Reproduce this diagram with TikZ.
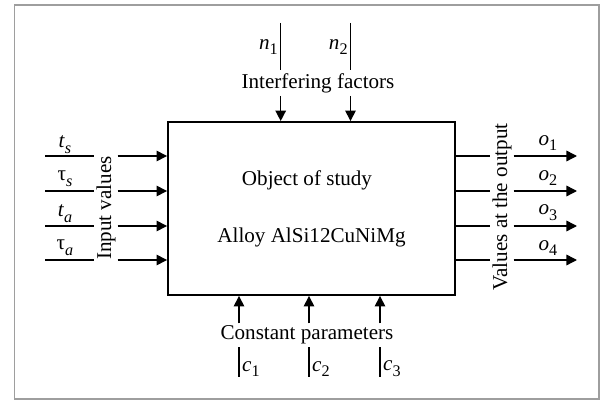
\documentclass[tikz,border=0pt]{standalone}
\usepackage{fontspec}
\setmainfont{Liberation Serif}
\usepackage{tikz}
\usetikzlibrary{calc,arrows.meta,positioning}
\usepackage{xcolor}
\newcommand{\subl}[1]{\raisebox{-0.28em}{\fontsize{11.5}{12}\selectfont #1}}
\newcommand{\ilab}[2]{\textit{#1}\subl{#2}}

\tikzset{
  ln/.style={line width=1pt},
  arr/.style={line width=1pt,-{Triangle[length=7.5pt,width=7.5pt]}},
  lbl/.style={inner sep=1pt},
  side/.style={inner sep=1.2pt,rotate=90},
}

\begin{document}
\begin{tikzpicture}[x=0.025cm,y=-0.025cm,font=\fontsize{15}{17}\selectfont]
\useasboundingbox (0,0) rectangle (600,400);
\draw[line width=1.4pt,color=black!38] (14.5,5) rectangle (599,399);
% object of study
\node[draw,line width=1.3pt,minimum width=7.175cm,minimum height=4.325cm] (obj) at (311.5,208.5) {};
\node (objt) at (307,180) {Object of study};
\node (alloy) at (311.5,237) {Alloy AlSi12CuNiMg};
% interfering factors
\node[lbl,inner sep=2pt] (interf) at (318,83) {Interfering factors};
\coordinate (nt1) at (280.7,23);
\coordinate (nt2) at (350.5,23);
\draw[ln] (nt1) -- (nt1 |- interf.north);
\draw[ln] (nt2) -- (nt2 |- interf.north);
\draw[arr] (nt1 |- interf.south) -- (nt1 |- obj.north);
\draw[arr] (nt2 |- interf.south) -- (nt2 |- obj.north);
\node[lbl,anchor=east] (n1) at (279.5,47) {\ilab{n}{1}};
\node[lbl,anchor=east] (n2) at (349.3,47) {\ilab{n}{2}};
% input values
\node[side] (inval) at (106,208) {Input values};
\coordinate (i1) at (45,156);
\coordinate (i2) at (45,191);
\coordinate (i3) at (45,226);
\coordinate (i4) at (45,260);
\draw[ln] (i1) -- (i1 -| inval.north);
\draw[ln] (i2) -- (i2 -| inval.north);
\draw[ln] (i3) -- (i3 -| inval.north);
\draw[ln] (i4) -- (i4 -| inval.north);
\draw[arr] (i1 -| inval.south) -- (i1 -| obj.west);
\draw[arr] (i2 -| inval.south) -- (i2 -| obj.west);
\draw[arr] (i3 -| inval.south) -- (i3 -| obj.west);
\draw[arr] (i4 -| inval.south) -- (i4 -| obj.west);
\node[lbl] (ts) at (65,145) {\ilab{t}{\textit{s}}};
\node[lbl] (taus) at (65,179) {τ\subl{\textit{s}}};
\node[lbl] (ta) at (65,214) {\ilab{t}{\textit{a}}};
\node[lbl] (taua) at (65,248) {τ\subl{\textit{a}}};
% values at the output
\node[side] (outval) at (502,207) {Values at the output};
\coordinate (o1) at (577,156);
\coordinate (o2) at (577,191);
\coordinate (o3) at (577,226);
\coordinate (o4) at (577,260);
\draw[ln] (o1 -| obj.east) -- (o1 -| outval.north);
\draw[ln] (o2 -| obj.east) -- (o2 -| outval.north);
\draw[ln] (o3 -| obj.east) -- (o3 -| outval.north);
\draw[ln] (o4 -| obj.east) -- (o4 -| outval.north);
\draw[arr] (o1 -| outval.south) -- (o1);
\draw[arr] (o2 -| outval.south) -- (o2);
\draw[arr] (o3 -| outval.south) -- (o3);
\draw[arr] (o4 -| outval.south) -- (o4);
\node[lbl] (out1) at (548,143) {\ilab{o}{1}};
\node[lbl] (out2) at (548,178) {\ilab{o}{2}};
\node[lbl] (out3) at (548,213) {\ilab{o}{3}};
\node[lbl] (out4) at (548,248) {\ilab{o}{4}};
% constant parameters
\node[lbl,inner sep=1.5pt] (const) at (307,335) {Constant parameters};
\coordinate (cb1) at (239,377);
\coordinate (cb2) at (309,377);
\coordinate (cb3) at (380,377);
\draw[ln] (cb1) -- (cb1 |- const.south);
\draw[ln] (cb2) -- (cb2 |- const.south);
\draw[ln] (cb3) -- (cb3 |- const.south);
\draw[arr] (cb1 |- const.north) -- (cb1 |- obj.south);
\draw[arr] (cb2 |- const.north) -- (cb2 |- obj.south);
\draw[arr] (cb3 |- const.north) -- (cb3 |- obj.south);
\node[lbl,anchor=west] (c1) at (240.5,369) {\ilab{c}{1}};
\node[lbl,anchor=west] (c2) at (310.5,369) {\ilab{c}{2}};
\node[lbl,anchor=west] (c3) at (381.5,369) {\ilab{c}{3}};
\end{tikzpicture}
\end{document}
